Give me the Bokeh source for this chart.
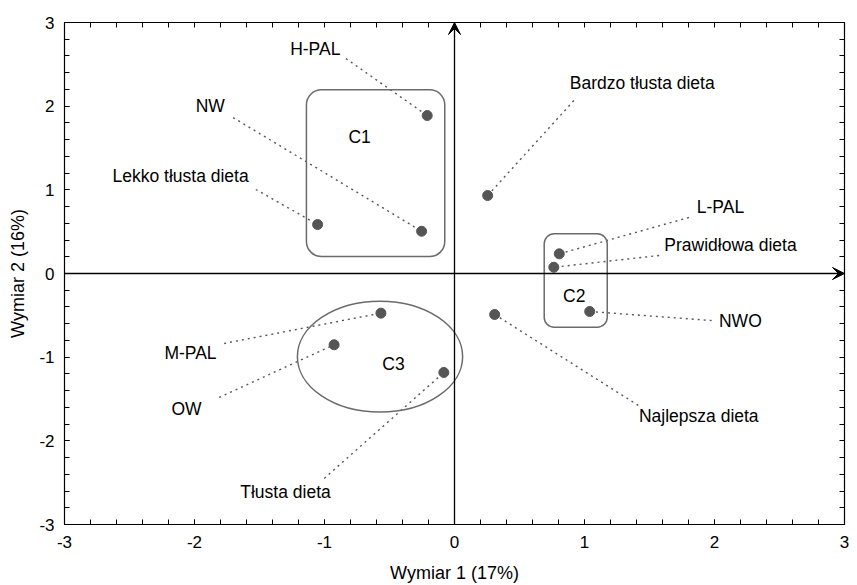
from bokeh.plotting import figure
from bokeh.models import (Range1d, LinearAxis, SingleIntervalTicker, FixedTicker, Arrow,
                          VeeHead, PrintfTickFormatter)
from bokeh.embed import file_html
from bokeh.resources import INLINE
from bokeh.core.properties import value

# ---- data ----
names = ["H-PAL", "NW", "Lekko tłusta dieta", "Bardzo tłusta dieta", "L-PAL",
         "Prawidłowa dieta", "NWO", "Najlepsza dieta", "M-PAL", "OW", "Tłusta dieta"]
dim1 = [-0.210, -0.253, -1.053, 0.255, 0.806, 0.764, 1.040, 0.309, -0.566, -0.926, -0.082]
dim2 = [1.888, 0.505, 0.585, 0.932, 0.235, 0.075, -0.454, -0.490, -0.474, -0.852, -1.183]

# label positions and leader-line start points (data units)
label_x = [-1.071, -1.879, -2.107, 1.444, 2.046, 2.123, 2.199, 1.879, -2.031, -2.062, -1.300]
label_y = [2.688, 2.007, 1.171, 2.282, 0.789, 0.335, -0.573, -1.708, -0.956, -1.625, -2.616]
leader_x = [-0.835, -1.703, -1.528, 0.918, 1.803, 1.574, 1.978, 1.414, -1.772, -1.810, -1.002]
leader_y = [2.569, 1.864, 1.004, 2.067, 0.669, 0.215, -0.562, -1.577, -0.836, -1.481, -2.449]

# clusters
cluster_names = ["C1", "C2", "C3"]
cluster_label_x = [-0.730, 0.921, -0.469]
cluster_label_y = [1.628, -0.263, -1.087]
c1_box = dict(left=-1.139, right=-0.075, bottom=0.203, top=2.195)
c2_box = dict(left=0.690, right=1.175, bottom=-0.642, top=0.474)
c3_ellipse = dict(x=-0.573, y=-0.994, width=1.271, height=1.326)

x_title = "Wymiar 1 (17%)"
y_title = "Wymiar 2 (16%)"

minor_tick_values = [round(-3 + 0.2 * i, 1) for i in range(31)]

FONT = "Liberation Sans"

p = figure(width=849, height=585, x_range=Range1d(-3, 3), y_range=Range1d(-3, 3),
           output_backend="svg", toolbar_location=None,
           min_border_left=64, min_border_right=5, min_border_top=22, min_border_bottom=61)
p.grid.visible = False
p.outline_line_color = "black"
p.outline_line_width = 1.2
p.background_fill_color = "white"
p.border_fill_color = "white"


def style_ticks(ax):
    ax.major_tick_in = 5
    ax.major_tick_out = 0
    ax.minor_tick_in = 5
    ax.minor_tick_out = 0
    ax.axis_line_color = "black"
    ax.major_tick_line_color = "black"
    ax.minor_tick_line_color = "black"


for ax in (p.xaxis[0], p.yaxis[0]):
    ax.ticker = SingleIntervalTicker(interval=1, num_minor_ticks=5)
    ax.formatter = PrintfTickFormatter(format="%d")
    style_ticks(ax)
    ax.major_label_text_font = FONT
    ax.major_label_text_font_size = "17px"
    ax.major_label_text_color = "black"
    ax.axis_label_text_font = FONT
    ax.axis_label_text_font_size = "18px"
    ax.axis_label_text_font_style = "normal"
    ax.axis_label_text_color = "black"

p.xaxis[0].axis_label = x_title
p.xaxis[0].major_label_standoff = 11
p.xaxis[0].axis_label_standoff = 12
p.yaxis[0].axis_label = y_title
p.yaxis[0].major_label_standoff = 10
p.yaxis[0].axis_label_standoff = 8

for loc in ("above", "right"):
    ax = LinearAxis(ticker=FixedTicker(ticks=[], minor_ticks=minor_tick_values))
    style_ticks(ax)
    ax.major_label_standoff = 0
    ax.axis_label_standoff = 0
    p.add_layout(ax, loc)

# zero axes with arrowheads
p.add_layout(Arrow(end=VeeHead(size=12, fill_color="black", line_color="black"),
                   x_start=-3, y_start=0, x_end=3, y_end=0,
                   line_color="black", line_width=1.3))
p.add_layout(Arrow(end=VeeHead(size=12, fill_color="black", line_color="black"),
                   x_start=0, y_start=-3, x_end=0, y_end=3,
                   line_color="black", line_width=1.3))

# leader lines
p.segment(x0=leader_x, y0=leader_y, x1=dim1, y1=dim2,
          line_color="#555555", line_width=1.4, line_dash="2 4")

# clusters
p.quad(**c1_box, fill_color=None, line_color="#6b6b6b", line_width=1.5, border_radius=15)
p.quad(**c2_box, fill_color=None, line_color="#6b6b6b", line_width=1.5, border_radius=10)
p.ellipse(**c3_ellipse, fill_color=None, line_color="#6b6b6b", line_width=1.5)

# points
p.scatter(dim1, dim2, size=10, fill_color="#555555", line_color="#555555")

# labels
p.text(x=label_x, y=label_y, text=names, text_align="center", text_baseline="middle",
       text_font=value(FONT), text_font_size="17.5px", text_color="black")
p.text(x=cluster_label_x, y=cluster_label_y, text=cluster_names, text_align="center",
       text_baseline="middle", text_font=value(FONT), text_font_size="17.5px", text_color="black")

open("out.html", "w").write(file_html(p, INLINE))
